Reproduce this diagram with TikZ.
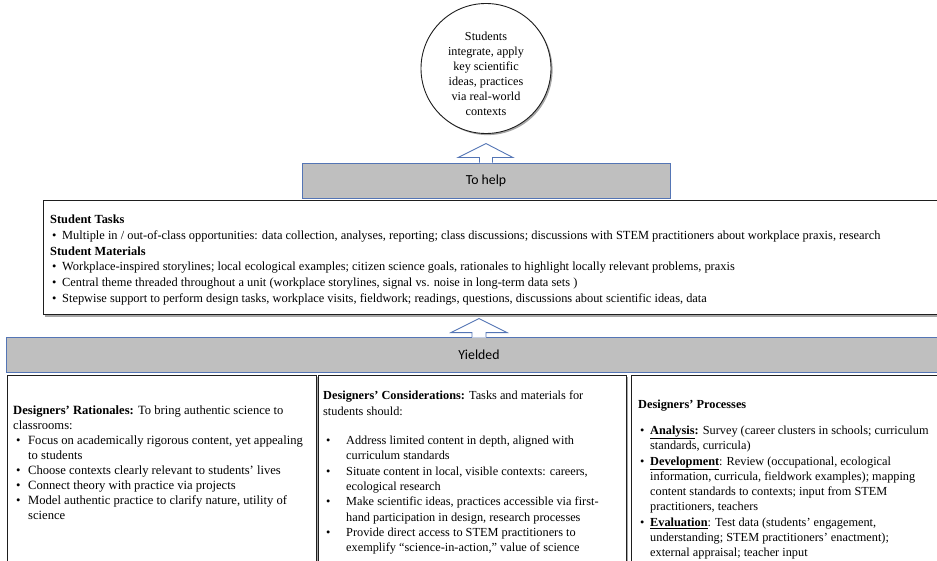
\documentclass[tikz,border=0pt]{standalone}
\usepackage{fontspec}
\setmainfont{Liberation Serif}
\newfontfamily\bannerfont{Carlito}
\usetikzlibrary{shadows,calc}

\definecolor{bannergray}{HTML}{BFBFBF}
\definecolor{banneredge}{HTML}{5475B5}
\definecolor{boxedge}{HTML}{1E1E1E}

% bullet with a lead-in space and a fixed slot for the dot
\newcommand{\bp}[2]{\hspace*{#1pt}\makebox[#2pt][l]{\textbullet}}
% hanging indent for continuation lines
\newcommand{\ind}[1]{\hspace*{#1pt}}

\tikzset{
  panel/.style={draw=boxedge, line width=0.9pt, fill=white, inner sep=0pt, anchor=north west},
  shadowed/.style={drop shadow={shadow xshift=1.6pt, shadow yshift=-1.6pt, opacity=0.35, fill=black}},
  banner/.style={draw=banneredge, fill=bannergray, line width=0.9pt, inner sep=0pt,
    font=\bannerfont\fontsize{13.8}{16}\selectfont},
  headfill/.style={fill=white},
  headline/.style={draw=banneredge, line width=0.9pt, line join=miter},
  bodytext/.style={anchor=north west, inner sep=0pt, align=left},
}

\begin{document}
\begin{tikzpicture}[x=1pt, y=-1pt]
\useasboundingbox (0,0) rectangle (937,561);

% goal circle and its text
\node[circle, draw=boxedge, line width=0.9pt, fill=white, minimum size=130pt, inner sep=0pt,
      shadowed] (goal) at (486,68.5) {};
\node[align=center, inner sep=0pt, font=\fontsize{12.2}{15}\selectfont] (goaltext) at (486,74)
  {Students\\integrate, apply\\key scientific\\ideas, practices\\via real-world\\contexts};

% "To help" banner with its up arrow
\node[banner, minimum width=368pt, minimum height=35pt] (help) at (486,180.5) {To help};
\fill[headfill] ($(help.north)+(-6.5,0.6)$) -- ($(help.north)+(-6.5,-5)$) -- ($(help.north)+(-28,-5)$)
  -- ($(help.north)+(0,-19)$) -- ($(help.north)+(27,-5)$) -- ($(help.north)+(6.5,-5)$)
  -- ($(help.north)+(6.5,0.6)$) -- cycle;
\draw[headline] ($(help.north)+(-6.5,0)$) -- ($(help.north)+(-6.5,-5)$) -- ($(help.north)+(-28,-5)$)
  -- ($(help.north)+(0,-19)$) -- ($(help.north)+(27,-5)$) -- ($(help.north)+(6.5,-5)$)
  -- ($(help.north)+(6.5,0)$);

% student tasks and materials
\node[panel, shadowed, minimum width=910pt, minimum height=114.5pt] (tasks) at (43,200) {};
\node[bodytext, font=\fontsize{12.4}{15.8}\selectfont] (taskstext) at (50,214.6) {%
\textbf{Student Tasks}\\
\bp{2}{10}Multiple in / out-of-class opportunities: data collection, analyses, reporting; class discussions; discussions with STEM practitioners about workplace praxis, research\\
\textbf{Student Materials}\\
\bp{2}{10}Workplace-inspired storylines; local ecological examples; citizen science goals, rationales to highlight locally relevant problems, praxis\\
\bp{2}{10}Central theme threaded throughout a unit (workplace storylines, signal vs. noise in long-term data sets )\\
\bp{2}{10}Stepwise support to perform design tasks, workplace visits, fieldwork; readings, questions, discussions about scientific ideas, data};

% "Yielded" banner with its up arrow
\node[banner, minimum width=946pt, minimum height=34.5pt] (yield) at (479,354.8) {Yielded};
\fill[headfill] ($(yield.north)+(-7,0.6)$) -- ($(yield.north)+(-7,-4.5)$) -- ($(yield.north)+(-28,-4.5)$)
  -- ($(yield.north)+(0,-18.5)$) -- ($(yield.north)+(28,-4.5)$) -- ($(yield.north)+(7,-4.5)$)
  -- ($(yield.north)+(7,0.6)$) -- cycle;
\draw[headline] ($(yield.north)+(-7,0)$) -- ($(yield.north)+(-7,-4.5)$) -- ($(yield.north)+(-28,-4.5)$)
  -- ($(yield.north)+(0,-18.5)$) -- ($(yield.north)+(28,-4.5)$) -- ($(yield.north)+(7,-4.5)$)
  -- ($(yield.north)+(7,0)$);

% designers' panels
\node[panel, shadowed, minimum width=309pt, minimum height=200pt] (rat) at (6.5,374.5) {};
\node[panel, shadowed, minimum width=308pt, minimum height=200pt] (cons) at (317.5,374.5) {};
\node[panel, shadowed, minimum width=320pt, minimum height=200pt] (proc) at (630.5,374.5) {};

\node[bodytext, font=\fontsize{12.6}{14.9}\selectfont] (rattext) at (13,406) {%
\textbf{Designers’ Rationales:} To bring authentic science to\\
classrooms:\\
\bp{3}{12}Focus on academically rigorous content, yet appealing\\
\ind{15}to students\\
\bp{3}{12}Choose contexts clearly relevant to students’ lives\\
\bp{3}{12}Connect theory with practice via projects\\
\bp{3}{12}Model authentic practice to clarify nature, utility of\\
\ind{15}science};

\node[bodytext, font=\fontsize{12.3}{15.3}\selectfont] (constext) at (323,391.1) {%
\textbf{Designers’ Considerations:} Tasks and materials for\\
students should:\\[14pt]
\bp{3}{20}Address limited content in depth, aligned with\\
\ind{23}curriculum standards\\
\bp{3}{20}Situate content in local, visible contexts: careers,\\
\ind{23}ecological research\\
\bp{3}{20}Make scientific ideas, practices accessible via first-\\
\ind{23}hand participation in design, research processes\\
\bp{3}{20}Provide direct access to STEM practitioners to\\
\ind{23}exemplify “science-in-action,” value of science};

\node[bodytext, font=\fontsize{12.3}{15.3}\selectfont] (proctext) at (638,399.4) {%
\textbf{Designers’ Processes}\\[11pt]
\bp{2}{10}\underline{\textbf{Analysis}}\textbf{:} Survey (career clusters in schools; curriculum\\
\ind{12}standards, curricula)\\
\bp{2}{10}\underline{\textbf{Development}}: Review (occupational, ecological\\
\ind{12}information, curricula, fieldwork examples); mapping\\
\ind{12}content standards to contexts; input from STEM\\
\ind{12}practitioners, teachers\\
\bp{2}{10}\underline{\textbf{Evaluation}}: Test data (students’ engagement,\\
\ind{12}understanding; STEM practitioners’ enactment);\\
\ind{12}external appraisal; teacher input};
\end{tikzpicture}
\end{document}
